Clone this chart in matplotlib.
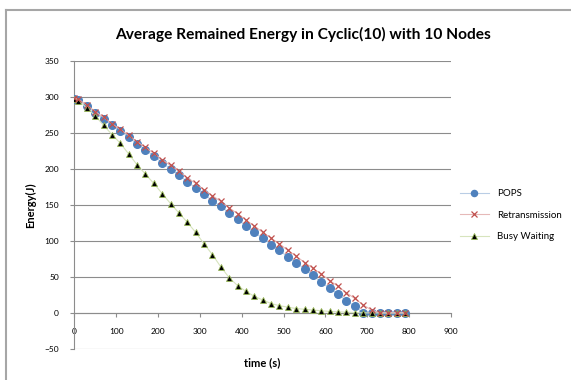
import matplotlib.pyplot as plt
from matplotlib.lines import Line2D

plt.rcParams['font.family'] = ['Lato', 'DejaVu Sans']

# time samples (s)
time_s = [0, 10, 30, 50, 70, 90, 110, 130, 150, 170, 190, 210, 230, 250, 270, 290,
          310, 330, 350, 370, 390, 410, 430, 450, 470, 490, 510, 530, 550, 570, 590,
          610, 630, 650, 670, 690, 710, 730, 750, 770, 790]

pops = [298, 296, 288, 278, 270, 261, 253, 244, 235, 227, 218, 209, 200, 192, 182, 174,
        165, 156, 148, 139, 130, 121, 112, 104, 95, 87, 78, 70, 61, 52, 43,
        34, 26, 17, 9, 0, 0, 0, 0, 0, 0]

retrans = [299, 297, 289, 280, 272, 263, 255, 247, 238, 230, 222, 213, 205, 197, 188, 180,
           171, 163, 155, 146, 138, 129, 121, 112, 104, 96, 87, 79, 70, 62, 54,
           45, 37, 28, 20, 11, 4, 0, 0, 0, 0]

busy = [298, 295, 285, 274, 261, 248, 236, 221, 206, 193, 180, 166, 152, 139, 126, 112,
        96, 81, 64, 49, 38, 30, 23, 18, 13, 10, 8, 6, 5, 4, 3,
        2, 1.5, 1, 0.5, 0, 0, 0, 0, 0, 0]

labels = ['POPS', 'Retransmission', 'Busy Waiting']

fig = plt.figure(figsize=(5.71, 3.80), dpi=100)
ax = fig.add_axes([0.13, 0.082, 0.66, 0.757])

# outer chart frame (top and left edges visible)
fig.add_artist(Line2D([6/571, 6/571], [0, 1 - 10/380], color='#a6a6a6', lw=1.5))
fig.add_artist(Line2D([6/571, 1], [1 - 10/380, 1 - 10/380], color='#a6a6a6', lw=1.5))

ax.plot(time_s, pops, color='#b9cde5', lw=0.8, marker='o', ms=5.5,
        mfc='#4f81bd', mec='#4f81bd', label=labels[0], zorder=3)
ax.plot(time_s, retrans, color='#e6b9b8', lw=0.8, marker='x', ms=5,
        mec='#c0504d', mew=0.9, label=labels[1], zorder=4)
ax.plot(time_s, busy, color='#d7e4bd', lw=0.8, marker='^', ms=5,
        mfc='black', mec='#9bbb59', mew=0.6, label=labels[2], zorder=3)

ax.set_xlim(0, 900)
ax.set_ylim(-50, 350)
ax.set_xticks(range(0, 901, 100))
ax.set_yticks(range(-50, 351, 50))
ax.yaxis.grid(True, color='#8c8c8c', lw=0.8)
ax.set_axisbelow(True)

for s in ['top', 'right']:
    ax.spines[s].set_visible(False)
ax.spines['left'].set_color('#8c8c8c')
ax.spines['bottom'].set_color('#8c8c8c')
ax.spines['bottom'].set_position(('data', 0))
ax.tick_params(axis='x', length=3, color='#8c8c8c', labelsize=6, pad=8, direction='out')
ax.tick_params(axis='y', length=3, color='#8c8c8c', labelsize=6, pad=8)

ax.set_xlabel('time (s)', fontsize=8, fontweight='bold')
ax.xaxis.set_label_coords(0.5, -0.03)
ax.set_ylabel('Energy(J)', fontsize=8, fontweight='bold', labelpad=6)

fig.text(0.53, 0.908, 'Average Remained Energy in Cyclic(10) with 10 Nodes',
         ha='center', va='center', fontsize=11.2, fontweight='bold')

ax.legend(loc='center left', bbox_to_anchor=(1.0, 0.465), frameon=False,
          fontsize=7, handlelength=3, labelspacing=1.3, markerscale=0.8)

fig.savefig('out.png', dpi=100)
